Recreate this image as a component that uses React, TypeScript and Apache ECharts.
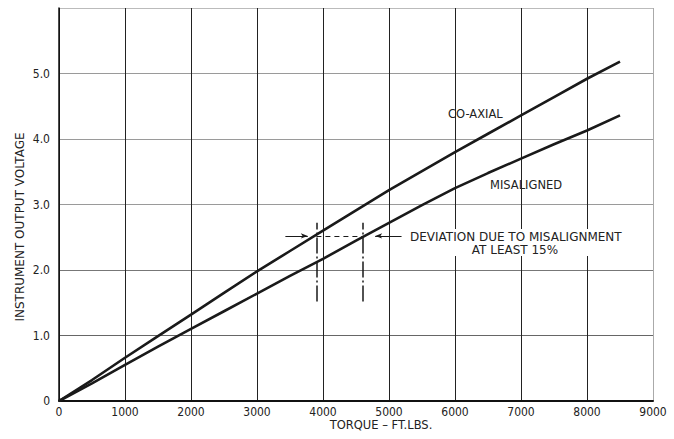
import React, { useEffect, useRef } from "react";
import * as echarts from "echarts";

const torque = [0, 500, 1000, 1500, 2000, 2500, 3000, 3500, 4000, 4500, 5000, 5500, 6000, 6500, 7000, 7500, 8000, 8500];
const coAxial = [0, 0.32, 0.66, 0.99, 1.32, 1.65, 1.98, 2.29, 2.6, 2.91, 3.22, 3.51, 3.8, 4.08, 4.36, 4.64, 4.92, 5.18];
const misaligned = [0, 0.27, 0.55, 0.83, 1.1, 1.37, 1.64, 1.91, 2.17, 2.45, 2.72, 2.99, 3.25, 3.48, 3.7, 3.92, 4.13, 4.36];

const xTicks = { min: 0, max: 9000, interval: 1000 };
const yTicks = { min: 0, max: 6, interval: 1 };

// Annotation (data units)
const devLeftX = 3900;
const devRightX = 4600;
const devY = 2.52;
const devBottom = 1.52;
const devTop = 2.72;
const leftArrow = [3430, 3770];
const rightArrow = [5190, 4790];

const FONT_NUM = "'Liberation Sans Narrow', 'DejaVu Sans Condensed', 'Liberation Sans', sans-serif";
const FONT_TXT = "'DejaVu Sans', sans-serif";

export default function App() {
  const ref = useRef<HTMLDivElement>(null);
  useEffect(() => {
    if (!ref.current) return;
    const chart = echarts.init(ref.current, null, { renderer: "svg" });
    const pairs = (ys: number[]) => torque.map((x, i) => [x, ys[i]]);
    const ink = "#1a1a1a";
    chart.setOption({
      animation: false,
      backgroundColor: "#ffffff",
      grid: { left: 59, right: 21, top: 8, bottom: 38, containLabel: false },
      xAxis: {
        type: "value",
        min: xTicks.min,
        max: xTicks.max,
        interval: xTicks.interval,
        axisLine: { show: true, onZero: false, lineStyle: { color: "#111", width: 2 } },
        axisTick: { show: false },
        axisLabel: {
          color: "#222",
          fontSize: 12,
          fontFamily: FONT_NUM,
          margin: 5,
          formatter: (v: number) => String(v),
        },
        splitLine: {
          show: true,
          lineStyle: {
            color: ["#222", "#222", "#222", "#222", "#222", "#222", "#222", "#222", "#222", "#aaa"],
            width: 1,
          },
        },
      },
      yAxis: {
        type: "value",
        min: yTicks.min,
        max: yTicks.max,
        interval: yTicks.interval,
        axisLine: { show: true, onZero: false, lineStyle: { color: "#111", width: 1.5 } },
        axisTick: { show: false },
        axisLabel: {
          color: "#222",
          fontSize: 12,
          fontFamily: FONT_NUM,
          margin: 9,
          formatter: (v: number) => (v === 0 ? "0" : v >= 6 ? "" : v.toFixed(1)),
        },
        splitLine: {
          show: true,
          lineStyle: { color: ["#222", "#666", "#777", "#9a9a9a", "#9a9a9a", "#9a9a9a", "#bbb"], width: 1 },
        },
      },
      series: [
        {
          name: "CO-AXIAL",
          type: "line",
          data: pairs(coAxial),
          showSymbol: false,
          symbol: "none",
          lineStyle: { color: ink, width: 2.6 },
          z: 5,
          markLine: {
            silent: true,
            symbol: ["none", "none"],
            label: { show: false },
            animation: false,
            data: [
              [
                { coord: [devLeftX, devBottom], lineStyle: { color: ink, width: 1.5, type: [16, 3, 2, 3] } },
                { coord: [devLeftX, devTop] },
              ],
              [
                { coord: [devRightX, devBottom], lineStyle: { color: ink, width: 1.5, type: [16, 3, 2, 3] } },
                { coord: [devRightX, devTop] },
              ],
              [
                { coord: [devLeftX, devY], lineStyle: { color: ink, width: 1.2, type: [5, 4] } },
                { coord: [devRightX, devY] },
              ],
              [
                { coord: [leftArrow[0], devY], symbol: "none", lineStyle: { color: ink, width: 1, type: "solid" } },
                { coord: [leftArrow[1], devY], symbol: "arrow", symbolSize: [4, 7] },
              ],
              [
                { coord: [rightArrow[0], devY], symbol: "none", lineStyle: { color: ink, width: 1, type: "solid" } },
                { coord: [rightArrow[1], devY], symbol: "arrow", symbolSize: [4, 7] },
              ],
            ],
          },
        },
        {
          name: "MISALIGNED",
          type: "line",
          data: pairs(misaligned),
          showSymbol: false,
          symbol: "none",
          lineStyle: { color: ink, width: 2.6 },
          z: 5,
        },
      ],
      graphic: [
        {
          type: "text",
          x: 20,
          y: 227,
          rotation: Math.PI / 2,
          style: {
            text: "INSTRUMENT OUTPUT VOLTAGE",
            fill: "#222",
            font: `12px ${FONT_TXT}`,
            align: "center",
            verticalAlign: "middle",
          },
        },
        {
          type: "text",
          x: 381,
          y: 425,
          style: { text: "TORQUE – FT.LBS.", fill: "#222", font: `11.5px ${FONT_TXT}`, align: "center", verticalAlign: "middle" },
        },
        {
          type: "text",
          x: 448,
          y: 114,
          style: { text: "CO-AXIAL", fill: "#222", font: `11.5px ${FONT_TXT}`, align: "left", verticalAlign: "middle" },
        },
        {
          type: "text",
          x: 490,
          y: 185,
          style: { text: "MISALIGNED", fill: "#222", font: `11.5px ${FONT_TXT}`, align: "left", verticalAlign: "middle" },
        },
        {
          type: "rect",
          shape: { x: 404, y: 229, width: 224, height: 27 },
          style: { fill: "#fff" },
          z: 10,
        },
        {
          type: "text",
          x: 410,
          y: 237,
          z: 11,
          style: {
            text: "DEVIATION DUE TO MISALIGNMENT",
            fill: "#222",
            font: `12px ${FONT_TXT}`,
            align: "left",
            verticalAlign: "middle",
          },
        },
        {
          type: "text",
          x: 515,
          y: 250,
          z: 11,
          style: { text: "AT LEAST 15%", fill: "#222", font: `12px ${FONT_TXT}`, align: "center", verticalAlign: "middle" },
        },
      ],
    });
    return () => chart.dispose();
  }, []);
  return <div ref={ref} style={{ position: "fixed", left: 0, top: 0, width: 674, height: 439, background: "#fff" }} />;
}
